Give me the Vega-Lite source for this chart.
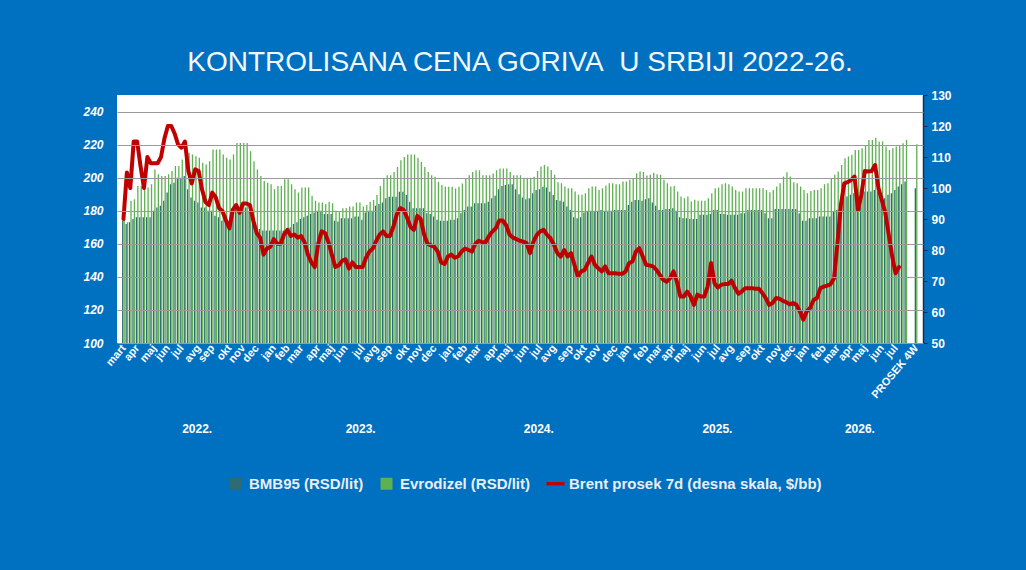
{
  "$schema": "https://vega.github.io/schema/vega-lite/v6.json",
  "width": 806,
  "height": 248,
  "autosize": {"type": "none"},
  "padding": {"left": 117, "top": 95, "right": 103, "bottom": 227},
  "background": "#0070C0",
  "view": {"fill": "white", "stroke": null},
  "title": {
    "text": "KONTROLISANA CENA GORIVA\u00a0 U SRBIJI 2022-26.",
    "font": "Liberation Sans",
    "fontSize": 28,
    "fontWeight": "normal",
    "color": "#f2f8ff",
    "anchor": "middle",
    "frame": "group",
    "baseline": "alphabetic",
    "offset": -10
  },
  "config": {
    "font": "Liberation Sans",
    "axis": {"labelFont": "Liberation Sans", "labelFontWeight": "bold", "labelColor": "#ffffff", "title": null}
  },
  "data": {
    "values": [
      {"d": "2022-03-04", "bmb": 174, "diz": 175, "brent": 90},
      {"d": "2022-03-11", "bmb": 172, "diz": 173, "brent": 105},
      {"d": "2022-03-18", "bmb": 173, "diz": 186, "brent": 100},
      {"d": "2022-03-25", "bmb": 175, "diz": 187, "brent": 115},
      {"d": "2022-04-01", "bmb": 176, "diz": 195, "brent": 115},
      {"d": "2022-04-08", "bmb": 176, "diz": 195, "brent": 107},
      {"d": "2022-04-15", "bmb": 176, "diz": 195, "brent": 100},
      {"d": "2022-04-22", "bmb": 176, "diz": 194, "brent": 110},
      {"d": "2022-04-29", "bmb": 176, "diz": 196, "brent": 108},
      {"d": "2022-05-06", "bmb": 180, "diz": 205, "brent": 108},
      {"d": "2022-05-13", "bmb": 182, "diz": 202, "brent": 108},
      {"d": "2022-05-20", "bmb": 183, "diz": 201, "brent": 110},
      {"d": "2022-05-27", "bmb": 186, "diz": 201, "brent": 116},
      {"d": "2022-06-03", "bmb": 191, "diz": 202, "brent": 120},
      {"d": "2022-06-10", "bmb": 196, "diz": 204, "brent": 120},
      {"d": "2022-06-17", "bmb": 197, "diz": 207, "brent": 117.5},
      {"d": "2022-06-24", "bmb": 200, "diz": 207, "brent": 114},
      {"d": "2022-07-01", "bmb": 200, "diz": 211, "brent": 113},
      {"d": "2022-07-08", "bmb": 201, "diz": 216, "brent": 115},
      {"d": "2022-07-15", "bmb": 193, "diz": 215, "brent": 105.5},
      {"d": "2022-07-22", "bmb": 188, "diz": 214, "brent": 101.5},
      {"d": "2022-07-29", "bmb": 186, "diz": 213, "brent": 106},
      {"d": "2022-08-05", "bmb": 185, "diz": 212, "brent": 105.5},
      {"d": "2022-08-12", "bmb": 182, "diz": 209, "brent": 99.5},
      {"d": "2022-08-19", "bmb": 182, "diz": 208, "brent": 95.5},
      {"d": "2022-08-26", "bmb": 180, "diz": 210, "brent": 94.5},
      {"d": "2022-09-02", "bmb": 180, "diz": 217, "brent": 98.5},
      {"d": "2022-09-09", "bmb": 177, "diz": 217, "brent": 97},
      {"d": "2022-09-16", "bmb": 176, "diz": 217, "brent": 93.5},
      {"d": "2022-09-23", "bmb": 174, "diz": 214, "brent": 92.5},
      {"d": "2022-09-30", "bmb": 174, "diz": 212, "brent": 89.5},
      {"d": "2022-10-07", "bmb": 173, "diz": 211, "brent": 87},
      {"d": "2022-10-14", "bmb": 176, "diz": 214, "brent": 93},
      {"d": "2022-10-21", "bmb": 182, "diz": 221, "brent": 94.5},
      {"d": "2022-10-28", "bmb": 182, "diz": 221, "brent": 92},
      {"d": "2022-11-04", "bmb": 182, "diz": 221, "brent": 95},
      {"d": "2022-11-11", "bmb": 182, "diz": 221, "brent": 95},
      {"d": "2022-11-18", "bmb": 180, "diz": 216, "brent": 94.5},
      {"d": "2022-11-25", "bmb": 175, "diz": 210, "brent": 89.5},
      {"d": "2022-12-02", "bmb": 170, "diz": 205, "brent": 85.5},
      {"d": "2022-12-09", "bmb": 169, "diz": 201, "brent": 84},
      {"d": "2022-12-16", "bmb": 168, "diz": 198, "brent": 78.5},
      {"d": "2022-12-23", "bmb": 168, "diz": 197, "brent": 80.5},
      {"d": "2022-12-30", "bmb": 168, "diz": 196, "brent": 81},
      {"d": "2023-01-06", "bmb": 168, "diz": 193, "brent": 83.5},
      {"d": "2023-01-13", "bmb": 168, "diz": 195, "brent": 82},
      {"d": "2023-01-20", "bmb": 168, "diz": 195, "brent": 82},
      {"d": "2023-01-27", "bmb": 168, "diz": 199, "brent": 85},
      {"d": "2023-02-03", "bmb": 168, "diz": 199, "brent": 86.5},
      {"d": "2023-02-10", "bmb": 170, "diz": 196, "brent": 84.5},
      {"d": "2023-02-17", "bmb": 172, "diz": 193, "brent": 85},
      {"d": "2023-02-24", "bmb": 173, "diz": 191, "brent": 84},
      {"d": "2023-03-03", "bmb": 175, "diz": 194, "brent": 84.5},
      {"d": "2023-03-10", "bmb": 176, "diz": 194, "brent": 82.5},
      {"d": "2023-03-17", "bmb": 177, "diz": 194, "brent": 78.5},
      {"d": "2023-03-24", "bmb": 178, "diz": 189, "brent": 76},
      {"d": "2023-03-31", "bmb": 179, "diz": 186, "brent": 74.5},
      {"d": "2023-04-07", "bmb": 180, "diz": 185, "brent": 82},
      {"d": "2023-04-14", "bmb": 180, "diz": 185, "brent": 86},
      {"d": "2023-04-21", "bmb": 178, "diz": 184, "brent": 85.5},
      {"d": "2023-04-28", "bmb": 178, "diz": 185.5, "brent": 82.5},
      {"d": "2023-05-05", "bmb": 178, "diz": 184.5, "brent": 78.5},
      {"d": "2023-05-12", "bmb": 174, "diz": 180, "brent": 74.5},
      {"d": "2023-05-19", "bmb": 173.5, "diz": 179.5, "brent": 75},
      {"d": "2023-05-26", "bmb": 175.5, "diz": 181.5, "brent": 76.5},
      {"d": "2023-06-02", "bmb": 175.5, "diz": 181.5, "brent": 77},
      {"d": "2023-06-09", "bmb": 175.5, "diz": 182.5, "brent": 74},
      {"d": "2023-06-16", "bmb": 175.5, "diz": 182.5, "brent": 76},
      {"d": "2023-06-23", "bmb": 176.5, "diz": 185, "brent": 74.5},
      {"d": "2023-06-30", "bmb": 176.5, "diz": 185, "brent": 74.5},
      {"d": "2023-07-07", "bmb": 174.5, "diz": 182.5, "brent": 74.5},
      {"d": "2023-07-14", "bmb": 179, "diz": 183.5, "brent": 77.5},
      {"d": "2023-07-21", "bmb": 180, "diz": 185.5, "brent": 79.5},
      {"d": "2023-07-28", "bmb": 180, "diz": 186.5, "brent": 80.5},
      {"d": "2023-08-04", "bmb": 183, "diz": 189.5, "brent": 83},
      {"d": "2023-08-11", "bmb": 184, "diz": 195, "brent": 85},
      {"d": "2023-08-18", "bmb": 185, "diz": 199.5, "brent": 86},
      {"d": "2023-08-25", "bmb": 187.5, "diz": 201.5, "brent": 84.5},
      {"d": "2023-09-01", "bmb": 188.5, "diz": 201.5, "brent": 84.5},
      {"d": "2023-09-08", "bmb": 188.5, "diz": 203.5, "brent": 87.5},
      {"d": "2023-09-15", "bmb": 188.5, "diz": 206.5, "brent": 91.5},
      {"d": "2023-09-22", "bmb": 191.5, "diz": 210.5, "brent": 93.5},
      {"d": "2023-09-29", "bmb": 191.5, "diz": 212.5, "brent": 93},
      {"d": "2023-10-06", "bmb": 189.5, "diz": 214, "brent": 90.5},
      {"d": "2023-10-13", "bmb": 185.5, "diz": 214, "brent": 87.5},
      {"d": "2023-10-20", "bmb": 181.5, "diz": 214, "brent": 86.5},
      {"d": "2023-10-27", "bmb": 181.5, "diz": 212, "brent": 91},
      {"d": "2023-11-03", "bmb": 181.5, "diz": 209.5, "brent": 90},
      {"d": "2023-11-10", "bmb": 181.5, "diz": 206.5, "brent": 85},
      {"d": "2023-11-17", "bmb": 178.5, "diz": 203.5, "brent": 82},
      {"d": "2023-11-24", "bmb": 178, "diz": 201.5, "brent": 81.5},
      {"d": "2023-12-01", "bmb": 176.5, "diz": 200.5, "brent": 81},
      {"d": "2023-12-08", "bmb": 174.5, "diz": 197.5, "brent": 79.5},
      {"d": "2023-12-15", "bmb": 174, "diz": 195.5, "brent": 76},
      {"d": "2023-12-22", "bmb": 174, "diz": 194.5, "brent": 75.5},
      {"d": "2023-12-29", "bmb": 174, "diz": 194.5, "brent": 78},
      {"d": "2024-01-05", "bmb": 174.5, "diz": 194.5, "brent": 78.5},
      {"d": "2024-01-12", "bmb": 174.5, "diz": 193.5, "brent": 77.5},
      {"d": "2024-01-19", "bmb": 175.5, "diz": 194.5, "brent": 78},
      {"d": "2024-01-26", "bmb": 178.5, "diz": 196.5, "brent": 79.5},
      {"d": "2024-02-02", "bmb": 180.5, "diz": 199.5, "brent": 80.5},
      {"d": "2024-02-09", "bmb": 182.5, "diz": 201.5, "brent": 80},
      {"d": "2024-02-16", "bmb": 182.5, "diz": 203.5, "brent": 79.5},
      {"d": "2024-02-23", "bmb": 184.5, "diz": 204.5, "brent": 82},
      {"d": "2024-03-01", "bmb": 184.5, "diz": 204.5, "brent": 83},
      {"d": "2024-03-08", "bmb": 184.5, "diz": 201.5, "brent": 82.5},
      {"d": "2024-03-15", "bmb": 184.5, "diz": 201.5, "brent": 82.5},
      {"d": "2024-03-22", "bmb": 185.5, "diz": 201.5, "brent": 84.5},
      {"d": "2024-03-29", "bmb": 187.5, "diz": 202.5, "brent": 86},
      {"d": "2024-04-05", "bmb": 189, "diz": 204.5, "brent": 87},
      {"d": "2024-04-12", "bmb": 193, "diz": 205.5, "brent": 89.5},
      {"d": "2024-04-19", "bmb": 195, "diz": 205.5, "brent": 89.5},
      {"d": "2024-04-26", "bmb": 195.5, "diz": 205.5, "brent": 88},
      {"d": "2024-05-03", "bmb": 196, "diz": 203.5, "brent": 85},
      {"d": "2024-05-10", "bmb": 196, "diz": 201.5, "brent": 84},
      {"d": "2024-05-17", "bmb": 193, "diz": 201.5, "brent": 83.5},
      {"d": "2024-05-24", "bmb": 190, "diz": 201.5, "brent": 83},
      {"d": "2024-05-31", "bmb": 188, "diz": 200, "brent": 82.7},
      {"d": "2024-06-07", "bmb": 187, "diz": 200, "brent": 82.2},
      {"d": "2024-06-14", "bmb": 187.5, "diz": 200, "brent": 79},
      {"d": "2024-06-21", "bmb": 190.5, "diz": 200.5, "brent": 82.7},
      {"d": "2024-06-28", "bmb": 192.5, "diz": 204, "brent": 84.9},
      {"d": "2024-07-05", "bmb": 193, "diz": 206.7, "brent": 86},
      {"d": "2024-07-12", "bmb": 194.5, "diz": 207.7, "brent": 86.5},
      {"d": "2024-07-19", "bmb": 194, "diz": 206.7, "brent": 84.9},
      {"d": "2024-07-26", "bmb": 191.5, "diz": 204.7, "brent": 83.8},
      {"d": "2024-08-02", "bmb": 189.5, "diz": 201.7, "brent": 81.7},
      {"d": "2024-08-09", "bmb": 186.5, "diz": 197.3, "brent": 79},
      {"d": "2024-08-16", "bmb": 186, "diz": 196.6, "brent": 77.9},
      {"d": "2024-08-23", "bmb": 185.5, "diz": 194.6, "brent": 80},
      {"d": "2024-08-30", "bmb": 182.5, "diz": 193.6, "brent": 77.9},
      {"d": "2024-09-06", "bmb": 180.5, "diz": 193.6, "brent": 79},
      {"d": "2024-09-13", "bmb": 176, "diz": 191.6, "brent": 75.2},
      {"d": "2024-09-20", "bmb": 175.5, "diz": 189.6, "brent": 71.5},
      {"d": "2024-09-27", "bmb": 176, "diz": 189.6, "brent": 73.1},
      {"d": "2024-10-04", "bmb": 179, "diz": 190.6, "brent": 73.6},
      {"d": "2024-10-11", "bmb": 180, "diz": 193.6, "brent": 75.8},
      {"d": "2024-10-18", "bmb": 180, "diz": 194.6, "brent": 77.9},
      {"d": "2024-10-25", "bmb": 180, "diz": 194.6, "brent": 75.2},
      {"d": "2024-11-01", "bmb": 180, "diz": 192.6, "brent": 74.1},
      {"d": "2024-11-08", "bmb": 180.5, "diz": 193.6, "brent": 73.1},
      {"d": "2024-11-15", "bmb": 180, "diz": 195.2, "brent": 74.7},
      {"d": "2024-11-22", "bmb": 180, "diz": 196.6, "brent": 72.5},
      {"d": "2024-11-29", "bmb": 180, "diz": 196.6, "brent": 72.5},
      {"d": "2024-12-06", "bmb": 180.5, "diz": 196, "brent": 72.5},
      {"d": "2024-12-13", "bmb": 180.5, "diz": 196, "brent": 72.3},
      {"d": "2024-12-20", "bmb": 180.5, "diz": 197.7, "brent": 72.3},
      {"d": "2024-12-27", "bmb": 180.5, "diz": 197.7, "brent": 73.1},
      {"d": "2025-01-03", "bmb": 183.5, "diz": 198.7, "brent": 75.8},
      {"d": "2025-01-10", "bmb": 185.5, "diz": 199.7, "brent": 76.3},
      {"d": "2025-01-17", "bmb": 186.5, "diz": 202.7, "brent": 79.5},
      {"d": "2025-01-24", "bmb": 186.5, "diz": 203.7, "brent": 80.6},
      {"d": "2025-01-31", "bmb": 186, "diz": 203.5, "brent": 77.9},
      {"d": "2025-02-07", "bmb": 187, "diz": 201.3, "brent": 75.2},
      {"d": "2025-02-14", "bmb": 187.5, "diz": 201.7, "brent": 75},
      {"d": "2025-02-21", "bmb": 185, "diz": 203, "brent": 74.7},
      {"d": "2025-02-28", "bmb": 183, "diz": 202, "brent": 73.6},
      {"d": "2025-03-07", "bmb": 180.5, "diz": 201.7, "brent": 72},
      {"d": "2025-03-14", "bmb": 180.5, "diz": 198.7, "brent": 70.4},
      {"d": "2025-03-21", "bmb": 181, "diz": 196.6, "brent": 69.8},
      {"d": "2025-03-28", "bmb": 181, "diz": 194.6, "brent": 70.9},
      {"d": "2025-04-04", "bmb": 181.5, "diz": 195, "brent": 73.1},
      {"d": "2025-04-11", "bmb": 180, "diz": 191.6, "brent": 69.8},
      {"d": "2025-04-18", "bmb": 176, "diz": 188.6, "brent": 65},
      {"d": "2025-04-25", "bmb": 175.5, "diz": 187.6, "brent": 65},
      {"d": "2025-05-02", "bmb": 175.5, "diz": 188.6, "brent": 66.6},
      {"d": "2025-05-09", "bmb": 175, "diz": 185.6, "brent": 65},
      {"d": "2025-05-16", "bmb": 175, "diz": 186.6, "brent": 62.3},
      {"d": "2025-05-23", "bmb": 175, "diz": 186, "brent": 65.6},
      {"d": "2025-05-30", "bmb": 177.5, "diz": 186, "brent": 65},
      {"d": "2025-06-06", "bmb": 177.5, "diz": 186, "brent": 65},
      {"d": "2025-06-13", "bmb": 177.5, "diz": 187.6, "brent": 68.2},
      {"d": "2025-06-20", "bmb": 178, "diz": 190.6, "brent": 75.8},
      {"d": "2025-06-27", "bmb": 180.5, "diz": 193.6, "brent": 69.3},
      {"d": "2025-07-04", "bmb": 180.5, "diz": 194, "brent": 67.9},
      {"d": "2025-07-11", "bmb": 178, "diz": 196, "brent": 68.8},
      {"d": "2025-07-18", "bmb": 178, "diz": 196.6, "brent": 69},
      {"d": "2025-07-25", "bmb": 177.5, "diz": 196, "brent": 69},
      {"d": "2025-08-01", "bmb": 177.5, "diz": 194.6, "brent": 70.1},
      {"d": "2025-08-08", "bmb": 177.5, "diz": 192.6, "brent": 67.7},
      {"d": "2025-08-15", "bmb": 177.5, "diz": 191.6, "brent": 65.9},
      {"d": "2025-08-22", "bmb": 178.5, "diz": 191.6, "brent": 66.6},
      {"d": "2025-08-29", "bmb": 178.5, "diz": 193.6, "brent": 67.7},
      {"d": "2025-09-05", "bmb": 180.5, "diz": 193.6, "brent": 67.7},
      {"d": "2025-09-12", "bmb": 180.5, "diz": 193.6, "brent": 67.7},
      {"d": "2025-09-19", "bmb": 180.5, "diz": 193.6, "brent": 67.5},
      {"d": "2025-09-26", "bmb": 180.5, "diz": 193.6, "brent": 67.5},
      {"d": "2025-10-03", "bmb": 180.5, "diz": 193.6, "brent": 66.1},
      {"d": "2025-10-10", "bmb": 178.5, "diz": 192.6, "brent": 64.5},
      {"d": "2025-10-17", "bmb": 175.5, "diz": 191.2, "brent": 62.3},
      {"d": "2025-10-24", "bmb": 175.5, "diz": 192.6, "brent": 62.9},
      {"d": "2025-10-31", "bmb": 181, "diz": 194.6, "brent": 64.5},
      {"d": "2025-11-07", "bmb": 181, "diz": 196.6, "brent": 64.3},
      {"d": "2025-11-14", "bmb": 181, "diz": 200.7, "brent": 63.6},
      {"d": "2025-11-21", "bmb": 181, "diz": 203.3, "brent": 63.2},
      {"d": "2025-11-28", "bmb": 181, "diz": 200.7, "brent": 62.5},
      {"d": "2025-12-05", "bmb": 181, "diz": 197.3, "brent": 62.9},
      {"d": "2025-12-12", "bmb": 181, "diz": 196.6, "brent": 62.3},
      {"d": "2025-12-19", "bmb": 178.5, "diz": 194.6, "brent": 60.2},
      {"d": "2025-12-26", "bmb": 174, "diz": 192.6, "brent": 57.5},
      {"d": "2026-01-02", "bmb": 174, "diz": 190.6, "brent": 60.2},
      {"d": "2026-01-09", "bmb": 175.5, "diz": 192, "brent": 61.3},
      {"d": "2026-01-16", "bmb": 175.5, "diz": 192.6, "brent": 63.9},
      {"d": "2026-01-23", "bmb": 175.5, "diz": 192.6, "brent": 64.5},
      {"d": "2026-01-30", "bmb": 176.5, "diz": 193.6, "brent": 67.7},
      {"d": "2026-02-06", "bmb": 176.5, "diz": 196, "brent": 68.2},
      {"d": "2026-02-13", "bmb": 176.5, "diz": 196.6, "brent": 68.5},
      {"d": "2026-02-20", "bmb": 176.5, "diz": 199.7, "brent": 69},
      {"d": "2026-02-27", "bmb": 179.5, "diz": 201.7, "brent": 70.9},
      {"d": "2026-03-06", "bmb": 180.5, "diz": 203.7, "brent": 82.2},
      {"d": "2026-03-13", "bmb": 184.6, "diz": 207.7, "brent": 94.6},
      {"d": "2026-03-20", "bmb": 187.6, "diz": 211.7, "brent": 101.5},
      {"d": "2026-03-27", "bmb": 188.6, "diz": 212.8, "brent": 101.9},
      {"d": "2026-04-03", "bmb": 189.6, "diz": 213.8, "brent": 102.6},
      {"d": "2026-04-10", "bmb": 190.6, "diz": 216.8, "brent": 103.7},
      {"d": "2026-04-17", "bmb": 190.6, "diz": 216.8, "brent": 92.9},
      {"d": "2026-04-24", "bmb": 190.6, "diz": 217.8, "brent": 97.8},
      {"d": "2026-05-01", "bmb": 191.6, "diz": 219.8, "brent": 105.5},
      {"d": "2026-05-08", "bmb": 191.6, "diz": 222.8, "brent": 105.3},
      {"d": "2026-05-15", "bmb": 191.6, "diz": 222.8, "brent": 105.5},
      {"d": "2026-05-22", "bmb": 192.6, "diz": 224.2, "brent": 107.4},
      {"d": "2026-05-29", "bmb": 191.6, "diz": 221.8, "brent": 100},
      {"d": "2026-06-05", "bmb": 188.6, "diz": 221.8, "brent": 96},
      {"d": "2026-06-12", "bmb": 187.6, "diz": 218.8, "brent": 92},
      {"d": "2026-06-19", "bmb": 189.6, "diz": 216.8, "brent": 85},
      {"d": "2026-06-26", "bmb": 190.6, "diz": 217.8, "brent": 78},
      {"d": "2026-07-03", "bmb": 192.6, "diz": 218.8, "brent": 72.5},
      {"d": "2026-07-10", "bmb": 194.6, "diz": 219.4, "brent": 74.5},
      {"d": "2026-07-17", "bmb": 196, "diz": 220.8, "brent": null},
      {"d": "2026-07-24", "bmb": 197.7, "diz": 222.8, "brent": null},
      {"d": "2026-08-14", "bmb": 193.6, "diz": 220.2, "brent": null}
    ]
  },
  "layer": [
    {
      "mark": {"type": "bar", "width": 1.3, "xOffset": -0.72, "clip": true},
      "encoding": {
        "x": {
          "field": "d",
          "type": "temporal",
          "scale": {
            "type": "utc",
            "domain": [
              {"year": 2022, "month": 3, "date": 1, "utc": true},
              {"year": 2026, "month": 8, "date": 18, "utc": true}
            ]
          },
          "axis": {
            "orient": "bottom",
            "values": [
              {"year": 2022, "month": 3, "date": 4, "utc": true},
              {"year": 2022, "month": 4, "date": 1, "utc": true},
              {"year": 2022, "month": 5, "date": 6, "utc": true},
              {"year": 2022, "month": 6, "date": 3, "utc": true},
              {"year": 2022, "month": 7, "date": 1, "utc": true},
              {"year": 2022, "month": 8, "date": 5, "utc": true},
              {"year": 2022, "month": 9, "date": 2, "utc": true},
              {"year": 2022, "month": 10, "date": 7, "utc": true},
              {"year": 2022, "month": 11, "date": 4, "utc": true},
              {"year": 2022, "month": 12, "date": 2, "utc": true},
              {"year": 2023, "month": 1, "date": 6, "utc": true},
              {"year": 2023, "month": 2, "date": 3, "utc": true},
              {"year": 2023, "month": 3, "date": 3, "utc": true},
              {"year": 2023, "month": 4, "date": 7, "utc": true},
              {"year": 2023, "month": 5, "date": 5, "utc": true},
              {"year": 2023, "month": 6, "date": 2, "utc": true},
              {"year": 2023, "month": 7, "date": 7, "utc": true},
              {"year": 2023, "month": 8, "date": 4, "utc": true},
              {"year": 2023, "month": 9, "date": 1, "utc": true},
              {"year": 2023, "month": 10, "date": 6, "utc": true},
              {"year": 2023, "month": 11, "date": 3, "utc": true},
              {"year": 2023, "month": 12, "date": 1, "utc": true},
              {"year": 2024, "month": 1, "date": 5, "utc": true},
              {"year": 2024, "month": 2, "date": 2, "utc": true},
              {"year": 2024, "month": 3, "date": 1, "utc": true},
              {"year": 2024, "month": 4, "date": 5, "utc": true},
              {"year": 2024, "month": 5, "date": 3, "utc": true},
              {"year": 2024, "month": 6, "date": 7, "utc": true},
              {"year": 2024, "month": 7, "date": 5, "utc": true},
              {"year": 2024, "month": 8, "date": 2, "utc": true},
              {"year": 2024, "month": 9, "date": 6, "utc": true},
              {"year": 2024, "month": 10, "date": 4, "utc": true},
              {"year": 2024, "month": 11, "date": 1, "utc": true},
              {"year": 2024, "month": 12, "date": 6, "utc": true},
              {"year": 2025, "month": 1, "date": 3, "utc": true},
              {"year": 2025, "month": 2, "date": 7, "utc": true},
              {"year": 2025, "month": 3, "date": 7, "utc": true},
              {"year": 2025, "month": 4, "date": 4, "utc": true},
              {"year": 2025, "month": 5, "date": 2, "utc": true},
              {"year": 2025, "month": 6, "date": 6, "utc": true},
              {"year": 2025, "month": 7, "date": 4, "utc": true},
              {"year": 2025, "month": 8, "date": 1, "utc": true},
              {"year": 2025, "month": 9, "date": 5, "utc": true},
              {"year": 2025, "month": 10, "date": 3, "utc": true},
              {"year": 2025, "month": 11, "date": 7, "utc": true},
              {"year": 2025, "month": 12, "date": 5, "utc": true},
              {"year": 2026, "month": 1, "date": 2, "utc": true},
              {"year": 2026, "month": 2, "date": 6, "utc": true},
              {"year": 2026, "month": 3, "date": 6, "utc": true},
              {"year": 2026, "month": 4, "date": 3, "utc": true},
              {"year": 2026, "month": 5, "date": 1, "utc": true},
              {"year": 2026, "month": 6, "date": 5, "utc": true},
              {"year": 2026, "month": 7, "date": 3, "utc": true},
              {"year": 2026, "month": 8, "date": 14, "utc": true}
            ],
            "labelExpr": "datum.value > utc(2026, 7, 1) ? 'PROSEK 4W' : (utcyear(datum.value) == 2022 && utcmonth(datum.value) == 2 ? 'mart' : ['jan','feb','mar','apr','maj','jun','jul','avg','sep','okt','nov','dec'][utcmonth(datum.value)])",
            "labelAngle": -50,
            "labelAlign": "right",
            "labelBaseline": "middle",
            "labelPadding": 3,
            "labelOverlap": false,
            "labelFlush": false,
            "labelFontSize": 11,
            "ticks": false,
            "domain": true,
            "domainColor": "#3a3a3a",
            "grid": false
          }
        },
        "y": {
          "field": "bmb",
          "type": "quantitative",
          "scale": {"domain": [100, 250], "zero": false, "nice": false},
          "axis": {
            "values": [100, 120, 140, 160, 180, 200, 220, 240],
            "grid": true,
            "gridColor": "#9a9a9a",
            "gridWidth": 1,
            "zindex": 1,
            "domain": false,
            "ticks": false,
            "labelFontStyle": "italic",
            "labelFontSize": 12,
            "labelPadding": 14
          }
        },
        "color": {
          "datum": "BMB95 (RSD/lit)",
          "type": "nominal",
          "scale": {
            "domain": ["BMB95 (RSD/lit)", "Evrodizel (RSD/lit)", "Brent prosek 7d (desna skala, $/bb)"],
            "range": ["#2e6b73", "#5db150", "#c00000"]
          },
          "legend": {
            "orient": "none",
            "legendX": 111,
            "legendY": 381,
            "direction": "horizontal",
            "title": null,
            "symbolSize": 144,
            "symbolStrokeWidth": 0,
            "labelOffset": 6,
            "columnPadding": 15,
            "labelLimit": 0,
            "labelFont": "Liberation Sans",
            "labelFontWeight": "bold",
            "labelFontSize": 15,
            "labelColor": "#e8eef6",
            "encode": {
              "symbols": {
                "update": {
                  "shape": {"signal": "datum.value === 'Brent prosek 7d (desna skala, $/bb)' ? 'M-1.5,-0.28H1.5V0.28H-1.5Z' : 'square'"}
                }
              }
            }
          }
        }
      }
    },
    {
      "mark": {"type": "bar", "width": 1.3, "xOffset": 0.72, "clip": true},
      "encoding": {
        "x": {"field": "d", "type": "temporal", "axis": null},
        "y": {
          "field": "diz",
          "type": "quantitative",
          "scale": {"domain": [100, 250], "zero": false, "nice": false},
          "axis": null
        },
        "color": {"datum": "Evrodizel (RSD/lit)", "type": "nominal"}
      }
    },
    {
      "mark": {"type": "line", "strokeWidth": 4, "strokeJoin": "round", "strokeCap": "round"},
      "encoding": {
        "x": {
          "field": "d",
          "type": "temporal",
          "axis": {
            "orient": "bottom",
            "offset": 80,
            "values": [
              {"year": 2022, "month": 8, "date": 1, "utc": true},
              {"year": 2023, "month": 7, "date": 2, "utc": true},
              {"year": 2024, "month": 7, "date": 1, "utc": true},
              {"year": 2025, "month": 7, "date": 2, "utc": true},
              {"year": 2026, "month": 4, "date": 20, "utc": true}
            ],
            "labelExpr": "utcFormat(datum.value, '%Y') + '.'",
            "labelAngle": 0,
            "labelAlign": "center",
            "labelBaseline": "top",
            "labelPadding": 0,
            "labelFontSize": 12,
            "labelFlush": false,
            "labelOverlap": false,
            "ticks": false,
            "domain": false,
            "grid": false
          }
        },
        "y": {
          "field": "brent",
          "type": "quantitative",
          "scale": {"domain": [50, 130], "zero": false, "nice": false},
          "axis": {
            "orient": "right",
            "values": [50, 60, 70, 80, 90, 100, 110, 120, 130],
            "grid": false,
            "domain": true,
            "domainColor": "#1c2d4e",
            "domainWidth": 1.5,
            "ticks": true,
            "tickColor": "#1c2d4e",
            "tickSize": 4,
            "labelPadding": 4,
            "labelFontSize": 12
          }
        },
        "color": {"datum": "Brent prosek 7d (desna skala, $/bb)", "type": "nominal"}
      }
    }
  ],
  "resolve": {"scale": {"y": "independent"}, "axis": {"x": "independent"}}
}
